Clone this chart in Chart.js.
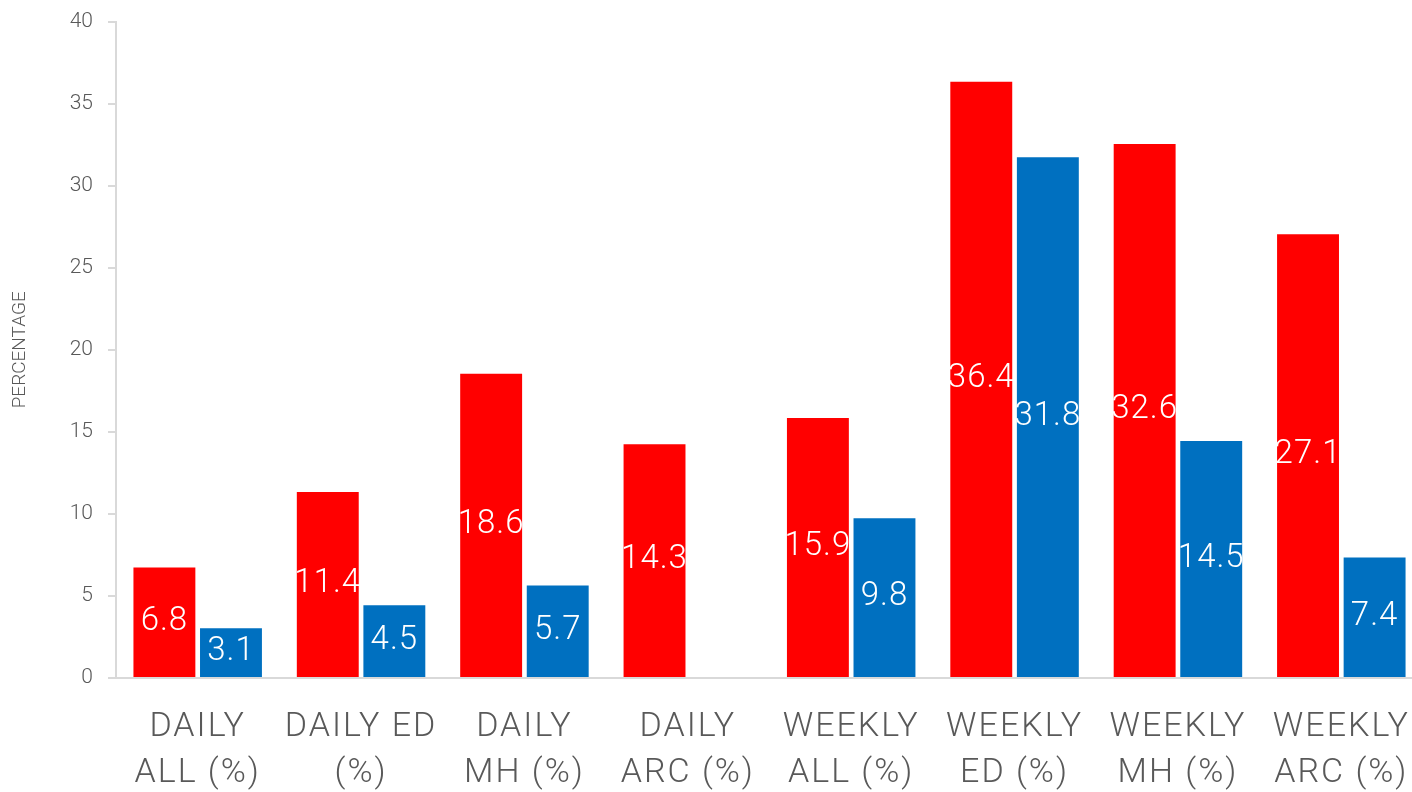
<!DOCTYPE html>
<html>
<head>
<meta charset="utf-8">
<script src="https://cdn.jsdelivr.net/npm/chart.js@4"></script>
<style>
  html, body { margin: 0; padding: 0; background: #fff; overflow: hidden; }
  #wrap { position: absolute; left: 0; top: -6px; width: 1423px; height: 798px; }
</style>
</head>
<body>
<div id="wrap"><canvas id="myChart"></canvas></div>
<script>
var categories = [
    ["DAILY", "ALL (%)"], ["DAILY ED", "(%)"], ["DAILY", "MH (%)"], ["DAILY", "ARC (%)"],
    ["WEEKLY", "ALL (%)"], ["WEEKLY", "ED (%)"], ["WEEKLY", "MH (%)"], ["WEEKLY", "ARC (%)"]
];
var redValues = [6.8, 11.4, 18.6, 14.3, 15.9, 36.4, 32.6, 27.1];
var blueValues = [3.1, 4.5, 5.7, null, 9.8, 31.8, 14.5, 7.4];
var yTicks = [0, 5, 10, 15, 20, 25, 30, 35, 40];

var fontName = "Roboto";
var axisColor = '#d9d9d9';
var textColor = '#595959';

// etiquettes blanches au milieu des barres
var barLabels = {
    id: 'barLabels',
    afterDatasetsDraw(chart) {
        const ctx = chart.ctx;
        ctx.save();
        ctx.font = '300 33px ' + fontName;
        ctx.fillStyle = '#ffffff';
        ctx.textAlign = 'center';
        ctx.textBaseline = 'middle';
        ctx.letterSpacing = '1px';
        chart.data.datasets.forEach((ds, i) => {
            const meta = chart.getDatasetMeta(i);
            meta.data.forEach((bar, j) => {
                const v = ds.data[j];
                if (v === null || v === undefined) return;
                ctx.fillText(v.toFixed(1), bar.x, (bar.y + bar.base) / 2);
            });
        });
        ctx.restore();
    }
};

// espacement des lettres pour l'axe x
var spacedLabels = {
    id: 'spacedLabels',
    afterLayout(chart) {
        const sc = chart.scales.x;
        if (sc._patched) return;
        const orig = sc.drawLabels;
        sc.drawLabels = function (area) {
            const ctx = this.ctx;
            ctx.save();
            ctx.letterSpacing = '2px';
            orig.call(this, area);
            ctx.restore();
        };
        sc._patched = true;
    }
};

config = {
    type: 'bar',
    data: {
        labels: categories,
        datasets: [{
            label: 'Série 1',
            data: redValues,
            backgroundColor: '#ff0000',
            borderColor: 'rgba(255,255,255,0.35)',
            borderWidth: 1,
            barPercentage: 0.96,
            categoryPercentage: 0.815
        },
        {
            label: 'Série 2',
            data: blueValues,
            backgroundColor: '#0070c0',
            borderColor: 'rgba(255,255,255,0.35)',
            borderWidth: 1,
            barPercentage: 0.96,
            categoryPercentage: 0.815
        }]
    },
    options: {
        responsive: true,
        maintainAspectRatio: false,
        animation: false,
        layout: {
            padding: { top: 6, right: 0, left: 0, bottom: 0 }
        },
        plugins: {
            legend: { display: false },
            tooltip: { enabled: false }
        },
        scales: {
            x: {
                grid: { display: false },
                border: { display: true, color: axisColor, width: 2 },
                ticks: {
                    color: textColor,
                    font: { family: fontName, size: 34, weight: '300', lineHeight: 1.34 },
                    maxRotation: 0,
                    autoSkip: false,
                    padding: 19
                },
                afterFit(scale) { scale.height = 114; }
            },
            y: {
                min: 0,
                max: 40,
                afterBuildTicks(scale) {
                    scale.ticks = yTicks.map(v => ({ value: v }));
                },
                grid: {
                    drawOnChartArea: false,
                    drawTicks: true,
                    tickLength: 8,
                    color: axisColor,
                    lineWidth: 2
                },
                border: { display: true, color: axisColor, width: 2 },
                ticks: {
                    color: textColor,
                    font: { family: fontName, size: 21, weight: '300' },
                    padding: 15
                },
                title: {
                    display: true,
                    text: 'PERCENTAGE',
                    color: textColor,
                    font: { family: fontName, size: 19, weight: '300' },
                    padding: { top: 9, bottom: 0 }
                },
                afterFit(scale) { scale.width = 116; }
            }
        }
    },
    plugins: [barLabels, spacedLabels]
};

const ctx = document.getElementById('myChart');
const myChart = new Chart(ctx, config);
</script>
</body>
</html>
